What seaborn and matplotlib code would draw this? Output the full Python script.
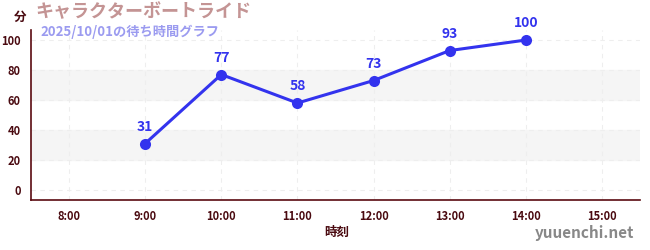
import matplotlib
matplotlib.use("Agg")
import matplotlib.pyplot as plt
import seaborn as sns
import pandas as pd
from matplotlib.ticker import MultipleLocator

hours = [9, 10, 11, 12, 13, 14]
waits = [31, 77, 58, 73, 93, 100]
xtick_pos = [8, 9, 10, 11, 12, 13, 14, 15]
xtick_labels = ["8:00", "9:00", "10:00", "11:00", "12:00", "13:00", "14:00", "15:00"]
yticks = [0, 20, 40, 60, 80, 100]
title = "キャラクターボートライド"
subtitle = "2025/10/01の待ち時間グラフ"

sns.set_style("white")
plt.rcParams['font.family'] = ['Noto Sans CJK JP', 'DejaVu Sans']

df = pd.DataFrame({"hour": hours, "wait": waits})

fig = plt.figure(figsize=(6.5, 2.5), dpi=100)
ax = fig.add_axes([31/650, 50/250, 609/650, 170/250])

for lo, hi in [(20, 40), (60, 80)]:
    ax.axhspan(lo, hi, color="#f5f5f5", zorder=0)

sns.lineplot(data=df, x="hour", y="wait", ax=ax, color="#3333ee", linewidth=2.2,
             marker="o", markersize=8, markeredgewidth=0, zorder=3)
for h, w in zip(hours, waits):
    ax.annotate(str(w), (h, w), xytext=(0, 7), textcoords="offset points",
                ha="center", va="bottom", color="#3333ee", fontsize=10, fontweight="bold")

ax.set_xlim(7.5, 15.5)
ax.set_ylim(-6.67, 106.7)
ax.set_xticks(xtick_pos)
ax.set_xticklabels(xtick_labels)
ax.set_yticks(yticks)
ax.yaxis.set_minor_locator(MultipleLocator(10))
ax.tick_params(axis="both", which="major", labelsize=8, colors="#555555", labelcolor="#4a0a10",
               length=4, width=1, direction="out")
ax.tick_params(axis="y", which="minor", length=3, width=1, colors="#dd2222")
for lbl in ax.get_xticklabels() + ax.get_yticklabels():
    lbl.set_fontweight("bold")
ax.grid(True, which="major", linestyle=(0, (4, 4)), color="#eeeeee", linewidth=0.8)
ax.set_axisbelow(True)

for side in ["top", "right"]:
    ax.spines[side].set_visible(False)
for side in ["left", "bottom"]:
    ax.spines[side].set_color("#5a0a10")
    ax.spines[side].set_linewidth(1.2)

ax.set_xlabel("")
ax.set_ylabel("")
fig.text(337/650, 1 - 232/250, "時刻", ha="center", va="center", fontsize=9,
         fontweight="bold", color="#4a0a10")
fig.text(20/650, 1 - 17/250, "分", ha="center", va="center", fontsize=9,
         fontweight="bold", color="#4a0a10")
fig.text(35/650, 1 - 12/250, title, ha="left", va="center", fontsize=13,
         fontweight="bold", color="#c49494")
fig.text(40/650, 1 - 32/250, subtitle, ha="left", va="center", fontsize=9.5,
         fontweight="bold", color="#9b9bf0")
fig.text(634/650, 1 - 233/250, "yuuenchi.net", ha="right", va="center", fontsize=11,
         fontweight="bold", color="#888888")

fig.savefig("out.png", dpi=100)
